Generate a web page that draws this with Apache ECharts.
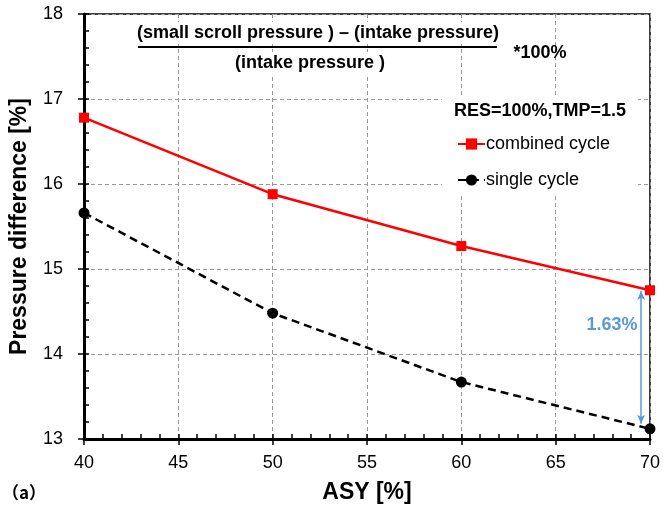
<!DOCTYPE html>
<html>
<head>
<meta charset="utf-8">
<script src="https://cdn.jsdelivr.net/npm/echarts@6/dist/echarts.min.js"></script>
<style>html,body{margin:0;padding:0;background:#fff;}#c{width:663px;height:509px;}</style>
</head>
<body>
<div id="c"></div>
<script>
const asy = [40, 50, 60, 70];
const combinedCycle = [16.78, 15.88, 15.27, 14.75];
const singleCycle = [15.66, 14.48, 13.67, 13.12];
const xTicks = { min: 40, max: 70, interval: 5 };
const yTicks = { min: 13, max: 18, interval: 1 };
const diffLabel = '1.63%';
const diffArrow = [[69.53, 14.74], [69.53, 13.18]];

const FONT = 'Liberation Sans, Arial, sans-serif';
const chart = echarts.init(document.getElementById('c'), null, { renderer: 'canvas' });

const toPairs = (xs, ys) => xs.map((x, i) => [x, ys[i]]);
const tickStyle = { color: '#000', width: 1.5 };

const option = {
  backgroundColor: '#fff',
  animation: false,
  grid: { left: 84, top: 14, right: 9, bottom: 69, show: true, borderColor: '#000', borderWidth: 1.5, backgroundColor: 'transparent' },
  legend: {
    orient: 'vertical', left: 452, top: 130, itemWidth: 27, itemHeight: 14, itemGap: 18,
    textStyle: { fontFamily: FONT, fontSize: 18, color: '#000', padding: [0, 0, 0, -4] },
    data: ['combined cycle', 'single cycle'], z: 5
  },
  xAxis: [{
    type: 'value', min: xTicks.min, max: xTicks.max, interval: xTicks.interval,
    axisLine: { show: true, onZero: false, lineStyle: { color: '#000', width: 3 } },
    axisTick: { show: true, inside: true, length: 5, lineStyle: tickStyle },
    minorTick: { show: true, splitNumber: 5, length: 5, lineStyle: tickStyle },
    axisLabel: { fontFamily: FONT, fontSize: 18, color: '#000', margin: 15 },
    splitLine: { show: true, lineStyle: { color: '#999', type: [4, 3], width: 1 } },
    name: 'ASY [%]', nameLocation: 'middle', nameGap: 42,
    nameTextStyle: { fontFamily: FONT, fontSize: 23, fontWeight: 'bold', color: '#000' }
  }, {
    type: 'value', min: xTicks.min, max: xTicks.max, interval: xTicks.interval, position: 'bottom',
    axisLine: { show: false, onZero: false },
    axisTick: { show: true, inside: false, length: 6, lineStyle: tickStyle },
    axisLabel: { show: false }, splitLine: { show: false }
  }],
  yAxis: [{
    type: 'value', min: yTicks.min, max: yTicks.max, interval: yTicks.interval,
    axisLine: { show: true, onZero: false, lineStyle: { color: '#000', width: 3 } },
    axisTick: { show: true, inside: true, length: 5, lineStyle: tickStyle },
    minorTick: { show: true, splitNumber: 5, length: 5, lineStyle: tickStyle },
    axisLabel: { fontFamily: FONT, fontSize: 18, color: '#000', margin: 21 },
    splitLine: { show: true, lineStyle: { color: '#999', type: [4, 3], width: 1 } },
    name: 'Pressure difference [%]', nameLocation: 'middle', nameGap: 53,
    nameTextStyle: { fontFamily: FONT, fontSize: 23, fontWeight: 'bold', color: '#000' }
  }, {
    type: 'value', min: yTicks.min, max: yTicks.max, interval: yTicks.interval, position: 'left',
    axisLine: { show: false, onZero: false },
    axisTick: { show: true, inside: false, length: 6, lineStyle: tickStyle },
    axisLabel: { show: false }, splitLine: { show: false }
  }],
  series: [{
    name: 'combined cycle', type: 'line', data: toPairs(asy, combinedCycle), z: 4,
    symbol: 'rect', symbolSize: 10,
    lineStyle: { color: '#ff0000', width: 2.5 }, itemStyle: { color: '#ff0000' }
  }, {
    name: 'single cycle', type: 'line', data: toPairs(asy, singleCycle), z: 4,
    symbol: 'circle', symbolSize: 11,
    lineStyle: { color: '#000', width: 2.5, type: [8, 5] }, itemStyle: { color: '#000' },
    markLine: {
      silent: true, symbol: ['arrow', 'arrow'], symbolSize: [6, 9],
      label: { show: false },
      lineStyle: { color: '#5b9bd5', width: 1.5, type: 'solid' },
      data: [[{ coord: diffArrow[0] }, { coord: diffArrow[1] }]]
    }
  }],
  graphic: [
    { type: 'rect', z: 1, shape: { x: 442, y: 96, width: 196, height: 100 }, style: { fill: '#fff' } },
    { type: 'text', z: 5, x: 318, y: 33, style: { text: '(small scroll pressure ) – (intake pressure)', font: 'bold 18px ' + FONT, fill: '#000', align: 'center', verticalAlign: 'middle', backgroundColor: '#fff', padding: [2, 2] } },
    { type: 'line', z: 5, shape: { x1: 138, y1: 47, x2: 497, y2: 47 }, style: { stroke: '#000', lineWidth: 2 } },
    { type: 'text', z: 5, x: 310, y: 63, style: { text: '(intake pressure )', font: 'bold 18px ' + FONT, fill: '#000', align: 'center', verticalAlign: 'middle', backgroundColor: '#fff', padding: [2, 2] } },
    { type: 'text', z: 5, x: 540, y: 53, style: { text: '*100%', font: 'bold 18px ' + FONT, fill: '#000', align: 'center', verticalAlign: 'middle' } },
    { type: 'text', z: 5, x: 540, y: 111, style: { text: 'RES=100%,TMP=1.5', font: 'bold 18px ' + FONT, fill: '#000', align: 'center', verticalAlign: 'middle' } },
    { type: 'text', z: 5, x: 612, y: 325, style: { text: diffLabel, font: 'bold 18px ' + FONT, fill: '#5b9bd5', align: 'center', verticalAlign: 'middle' } },
    { type: 'text', z: 5, x: 2, y: 493, style: { text: '（a）', font: 'bold 17px Noto Sans CJK SC, sans-serif', fill: '#000', align: 'left', verticalAlign: 'middle' } }
  ]
};
chart.setOption(option);
</script>
</body>
</html>
